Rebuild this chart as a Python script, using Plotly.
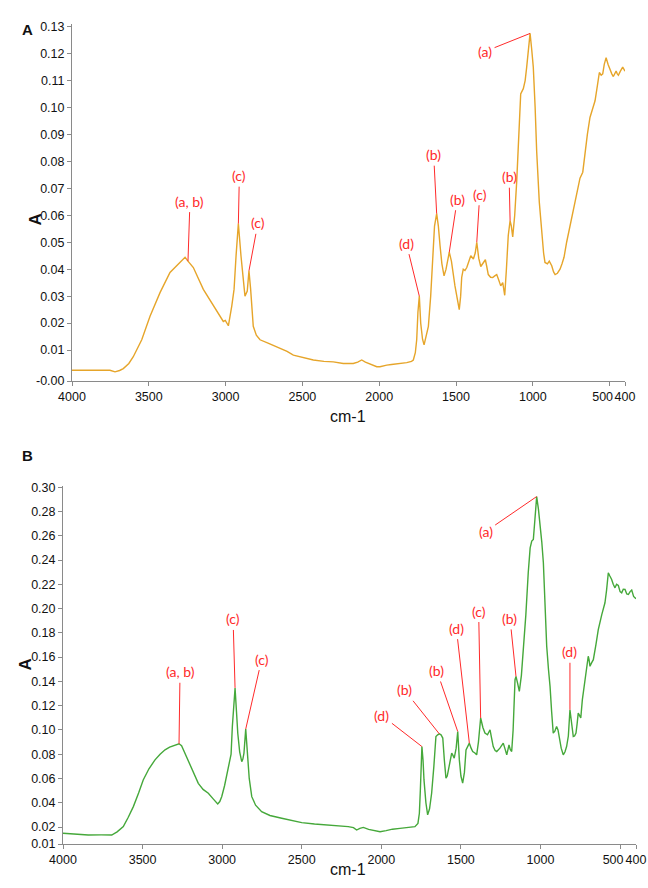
import numpy as np
import plotly.graph_objects as go

# ---------------- data ----------------
wn_A = [4000, 3991, 3900, 3820, 3753, 3720, 3690, 3666, 3630, 3601, 3546, 3492, 3427, 3362, 3308, 3280,
        3264, 3245, 3210, 3145, 3080, 3030, 3015, 3002, 2982, 2960, 2945, 2932, 2917, 2900, 2885, 2874,
        2859, 2848, 2837, 2820, 2800, 2776, 2720, 2667, 2600, 2559, 2500, 2429, 2360, 2299, 2234, 2169,
        2140, 2114, 2090, 2050, 2016, 1995, 1970, 1951, 1920, 1880, 1850, 1821, 1790, 1778, 1765, 1756,
        1748, 1739, 1730, 1718, 1708, 1695, 1680, 1665, 1652, 1640, 1626, 1615, 1604, 1592, 1578, 1565,
        1544, 1530, 1507, 1490, 1479, 1470, 1463, 1453, 1442, 1430, 1417, 1404, 1387, 1375, 1365, 1352,
        1339, 1325, 1309, 1300, 1290, 1275, 1261, 1248, 1235, 1222, 1209, 1196, 1183, 1172, 1160, 1148,
        1140, 1131, 1118, 1105, 1092, 1079, 1062, 1050, 1040, 1028, 1018, 1008, 997, 985, 975, 958,
        942, 930, 921, 905, 893, 877, 865, 855, 840, 823, 810, 797, 780, 758, 730, 710,
        693, 675, 660, 645, 628, 610, 595, 580, 567, 555, 545, 535, 523, 510, 497, 486,
        476, 467, 458, 450, 443, 430, 415, 400]
abs_A = [0.0025, 0.0025, 0.0023, 0.0024, 0.0025, 0.0019, 0.0024, 0.0031, 0.0050, 0.0075, 0.0138, 0.0225,
         0.0313, 0.0388, 0.0419, 0.0438, 0.0444, 0.0430, 0.0406, 0.0325, 0.0263, 0.0215, 0.0206, 0.0210,
         0.0190, 0.0263, 0.0325, 0.0450, 0.0569, 0.0450, 0.0350, 0.0300, 0.0319, 0.0394, 0.0325, 0.0188,
         0.0155, 0.0138, 0.0125, 0.0113, 0.0095, 0.0081, 0.0072, 0.0063, 0.0058, 0.0056, 0.0050, 0.0050,
         0.0055, 0.0063, 0.0055, 0.0045, 0.0038, 0.0038, 0.0042, 0.0044, 0.0046, 0.0048, 0.0050, 0.0053,
         0.0058, 0.0063, 0.0090, 0.0138, 0.0240, 0.0300, 0.0200, 0.0140, 0.0119, 0.0150, 0.0188, 0.0300,
         0.0460, 0.0560, 0.0606, 0.0560, 0.0487, 0.0420, 0.0375, 0.0400, 0.0463, 0.0430, 0.0338, 0.0280,
         0.0250, 0.0300, 0.0370, 0.0400, 0.0395, 0.0406, 0.0430, 0.0450, 0.0438, 0.0460, 0.0500, 0.0440,
         0.0410, 0.0420, 0.0435, 0.0410, 0.0380, 0.0370, 0.0369, 0.0375, 0.0380, 0.0360, 0.0338, 0.0350,
         0.0303, 0.0400, 0.0525, 0.0580, 0.0560, 0.0520, 0.0600, 0.0725, 0.0900, 0.1050, 0.1070, 0.1100,
         0.1150, 0.1220, 0.1275, 0.1220, 0.1150, 0.1000, 0.0838, 0.0650, 0.0525, 0.0460, 0.0425, 0.0420,
         0.0430, 0.0413, 0.0390, 0.0380, 0.0385, 0.0400, 0.0420, 0.0444, 0.0500, 0.0563, 0.0640, 0.0700,
         0.0738, 0.0760, 0.0840, 0.0900, 0.0963, 0.1000, 0.1025, 0.1080, 0.1130, 0.1120, 0.1125, 0.1160,
         0.1185, 0.1160, 0.1138, 0.1125, 0.1115, 0.1125, 0.1135, 0.1125, 0.1120, 0.1135, 0.1150, 0.1135]

wn_B = [4000, 3940, 3841, 3760, 3694, 3660, 3621, 3590, 3558, 3525, 3496, 3460, 3422, 3390, 3359, 3330,
        3307, 3285, 3271, 3255, 3235, 3213, 3180, 3150, 3120, 3087, 3055, 3028, 3015, 3003, 2985, 2972,
        2960, 2951, 2944, 2936, 2928, 2919, 2910, 2902, 2890, 2877, 2870, 2863, 2852, 2846, 2840, 2830,
        2814, 2790, 2752, 2700, 2626, 2560, 2500, 2420, 2333, 2270, 2208, 2175, 2155, 2135, 2113, 2080,
        2040, 2008, 1970, 1930, 1883, 1840, 1789, 1770, 1761, 1755, 1751, 1745, 1738, 1732, 1720, 1709,
        1697, 1684, 1670, 1657, 1646, 1636, 1625, 1614, 1604, 1594, 1586, 1579, 1568, 1558, 1550, 1542,
        1530, 1520, 1510, 1500, 1489, 1478, 1468, 1458, 1447, 1436, 1426, 1412, 1401, 1390, 1376, 1362,
        1349, 1333, 1317, 1307, 1297, 1285, 1275, 1255, 1234, 1222, 1212, 1198, 1190, 1181, 1172, 1160,
        1154, 1143, 1133, 1120, 1108, 1092, 1077, 1065, 1055, 1045, 1035, 1024, 1013, 1003, 992, 982,
        970, 961, 950, 940, 930, 920, 910, 899, 890, 882, 870, 857, 846, 836, 825, 815,
        805, 794, 786, 777, 770, 763, 755, 747, 737, 727, 713, 700, 695, 689, 680, 668,
        652, 637, 615, 595, 585, 574, 565, 553, 543, 532, 522, 511, 500, 490, 480, 469,
        458, 448, 437, 427, 415, 400]
abs_B = [0.0148, 0.0142, 0.0134, 0.0135, 0.0134, 0.0160, 0.0203, 0.0280, 0.0368, 0.0480, 0.0588, 0.0680,
         0.0753, 0.0800, 0.0836, 0.0858, 0.0871, 0.0882, 0.0886, 0.0870, 0.0810, 0.0753, 0.0650, 0.0560,
         0.0510, 0.0478, 0.0430, 0.0390, 0.0410, 0.0450, 0.0540, 0.0615, 0.0690, 0.0753, 0.0800, 0.1028,
         0.1200, 0.1346, 0.1150, 0.0973, 0.0820, 0.0739, 0.0760, 0.0809, 0.1007, 0.0900, 0.0781, 0.0600,
         0.0450, 0.0380, 0.0326, 0.0295, 0.0272, 0.0250, 0.0236, 0.0225, 0.0217, 0.0210, 0.0203, 0.0195,
         0.0175, 0.0189, 0.0197, 0.0180, 0.0170, 0.0161, 0.0170, 0.0182, 0.0189, 0.0195, 0.0203, 0.0230,
         0.0313, 0.0500, 0.0698, 0.0863, 0.0750, 0.0588, 0.0400, 0.0300, 0.0350, 0.0478, 0.0700, 0.0946,
         0.0960, 0.0968, 0.0960, 0.0933, 0.0750, 0.0602, 0.0620, 0.0671, 0.0760, 0.0809, 0.0790, 0.0767,
         0.0850, 0.0987, 0.0753, 0.0620, 0.0561, 0.0650, 0.0836, 0.0860, 0.0891, 0.0850, 0.0822, 0.0810,
         0.0795, 0.0900, 0.1098, 0.1020, 0.0974, 0.0960, 0.1001, 0.0930, 0.0863, 0.0830, 0.0822, 0.0850,
         0.0891, 0.0840, 0.0795, 0.0877, 0.0840, 0.0822, 0.1000, 0.1414, 0.1441, 0.1380, 0.1318, 0.1450,
         0.1635, 0.1950, 0.2295, 0.2500, 0.2556, 0.2570, 0.2736, 0.2923, 0.2820, 0.2708, 0.2550, 0.2378,
         0.2000, 0.1689, 0.1500, 0.1359, 0.1150, 0.0974, 0.0990, 0.1029, 0.1000, 0.0946, 0.0850, 0.0795,
         0.0820, 0.0863, 0.0950, 0.1166, 0.1050, 0.0946, 0.0950, 0.0974, 0.1050, 0.1139, 0.1120, 0.1098,
         0.1250, 0.1359, 0.1480, 0.1607, 0.1580, 0.1524, 0.1550, 0.1579, 0.1700, 0.1827, 0.1950, 0.2048,
         0.2150, 0.2295, 0.2270, 0.2240, 0.2200, 0.2171, 0.2200, 0.2190, 0.2140, 0.2130, 0.2160, 0.2158,
         0.2120, 0.2116, 0.2140, 0.2152, 0.2100, 0.2080]

x_ticks_main = [4000, 3500, 3000, 2500, 2000, 1500, 1000, 400]
x_tick_500 = [500]
yA_ticks = [0.01, 0.02, 0.03, 0.04, 0.05, 0.06, 0.07, 0.08, 0.09, 0.10, 0.11, 0.12, 0.13]
yB_ticks = [0.02, 0.04, 0.06, 0.08, 0.10, 0.12, 0.14, 0.16, 0.18, 0.20, 0.22, 0.24, 0.26, 0.28, 0.30]
yA_range = [-0.0015, 0.131]
yB_range = [0.006, 0.301]

# peak labels: (label, wavenumber, label offset px)
peaks_A = [("(a, b)", 3245, 2, -60), ("(c)", 2917, 1, -48), ("(c)", 2848, 9, -48),
           ("(d)", 1739, -13, -53), ("(b)", 1626, -3, -59), ("(b)", 1544, 8, -53),
           ("(c)", 1365, 3, -48), ("(b)", 1148, -1, -44), ("(a)", 1018, -45, 18)]
peaks_B = [("(a, b)", 3271, 1, -72), ("(c)", 2919, -2, -69), ("(c)", 2852, 16, -70),
           ("(d)", 1745, -40, -31), ("(b)", 1636, -35, -44), ("(b)", 1520, -21, -61),
           ("(d)", 1447, -13, -115), ("(c)", 1376, -2, -107), ("(b)", 1154, -6, -58),
           ("(a)", 1024, -51, 35), ("(d)", 815, 0, -58)]

# ---------------- figure ----------------
W, H = 648, 888
fig = go.Figure()
fig.add_trace(go.Scatter(x=wn_A, y=abs_A, mode="lines", line=dict(color="#E6A52A", width=1.4),
                         xaxis="x", yaxis="y", showlegend=False))
fig.add_trace(go.Scatter(x=wn_B, y=abs_B, mode="lines", line=dict(color="#45A83A", width=1.4),
                         xaxis="x2", yaxis="y2", showlegend=False))
# empty carriers so the overlay axes holding the "500" tick are drawn
fig.add_trace(go.Scatter(x=x_tick_500, y=[None], mode="lines", xaxis="x3", yaxis="y",
                         showlegend=False, hoverinfo="skip"))
fig.add_trace(go.Scatter(x=x_tick_500, y=[None], mode="lines", xaxis="x4", yaxis="y2",
                         showlegend=False, hoverinfo="skip"))

tickfont = dict(family="Liberation Sans, Arial, sans-serif", size=12.5, color="#111")
axcommon = dict(showgrid=False, zeroline=False, showline=True, linecolor="#8a8a8a", linewidth=1,
                ticks="outside", ticklen=4, tickcolor="#8a8a8a", tickfont=tickfont, automargin=False,
                mirror=False, tickangle=0)

dA_x = [72 / W, 625 / W]
dA_y = [1 - 381 / H, 1 - 24 / H]
dB_x = [63 / W, 636 / W]
dB_y = [1 - 844 / H, 1 - 486 / H]

xr = [4000, 400]
fig.update_layout(
    width=W, height=H, margin=dict(l=0, r=0, t=0, b=0),
    paper_bgcolor="white", plot_bgcolor="white",
    xaxis=dict(domain=dA_x, range=xr, tickvals=x_ticks_main, ticktext=[str(v) for v in x_ticks_main],
               anchor="y", **axcommon),
    yaxis=dict(domain=dA_y, range=yA_range, tickvals=[yA_range[0]] + yA_ticks,
               ticktext=["%.2f" % v for v in [yA_range[0]] + yA_ticks], anchor="x", **axcommon),
    xaxis2=dict(domain=dB_x, range=xr, tickvals=x_ticks_main, ticktext=[str(v) for v in x_ticks_main],
                anchor="y2", **axcommon),
    yaxis2=dict(domain=dB_y, range=yB_range, tickvals=[yB_range[0]] + yB_ticks,
                ticktext=["%.2f" % v for v in [yB_range[0]] + yB_ticks], anchor="x2", **axcommon),
)
# the crowded "500" tick sits on an overlay axis so its label can be nudged left
# (the axis is reversed, so a positive shift moves the label to the left)
ov = dict(axcommon)
ov.update(showline=False, ticklabelshift=7)
fig.update_layout(
    xaxis3=dict(overlaying="x", anchor="y", range=xr, tickvals=x_tick_500,
                ticktext=[str(v) for v in x_tick_500], **ov),
    xaxis4=dict(overlaying="x2", anchor="y2", range=xr, tickvals=x_tick_500,
                ticktext=[str(v) for v in x_tick_500], **ov),
)

red = "#FF2A2A"
labfont = dict(family="Lato, Open Sans, sans-serif", size=14, color=red)
annos = []
for peaks, wn, ab, xa, ya in [(peaks_A, wn_A, abs_A, "x", "y"), (peaks_B, wn_B, abs_B, "x2", "y2")]:
    for lab, w, dx, dy in peaks:
        yv = float(np.interp(w, wn[::-1], ab[::-1]))
        annos.append(dict(x=w, y=yv, xref=xa, yref=ya, text=lab, showarrow=True, arrowhead=0,
                          arrowwidth=1, arrowcolor=red, ax=dx, ay=dy, standoff=0, borderpad=2,
                          font=labfont))

titlefont = dict(family="Liberation Sans, Arial, sans-serif", size=16, color="#111")
bold = dict(family="Liberation Sans, Arial, sans-serif", size=15, color="#111")
ytitle = dict(family="Liberation Sans, Arial, sans-serif", size=17, color="#111")
annos += [
    dict(x=20 / W, y=1 - 19 / H, xref="paper", yref="paper", text="<b>A</b>", showarrow=False, font=bold),
    dict(x=20 / W, y=1 - 455 / H, xref="paper", yref="paper", text="<b>B</b>", showarrow=False, font=bold),
    dict(x=348 / W, y=1 - 417 / H, xref="paper", yref="paper", text="cm-1", showarrow=False, font=titlefont),
    dict(x=348 / W, y=1 - 880 / H, xref="paper", yref="paper", text="cm-1", showarrow=False, font=titlefont),
    dict(x=23 / W, y=1 - 212 / H, xref="paper", yref="paper", text="<b>A</b>", textangle=-90,
         showarrow=False, font=ytitle),
    dict(x=13 / W, y=1 - 673 / H, xref="paper", yref="paper", text="<b>A</b>", textangle=-90,
         showarrow=False, font=ytitle),
]
fig.update_layout(annotations=annos)

fig.write_html("out.html")
